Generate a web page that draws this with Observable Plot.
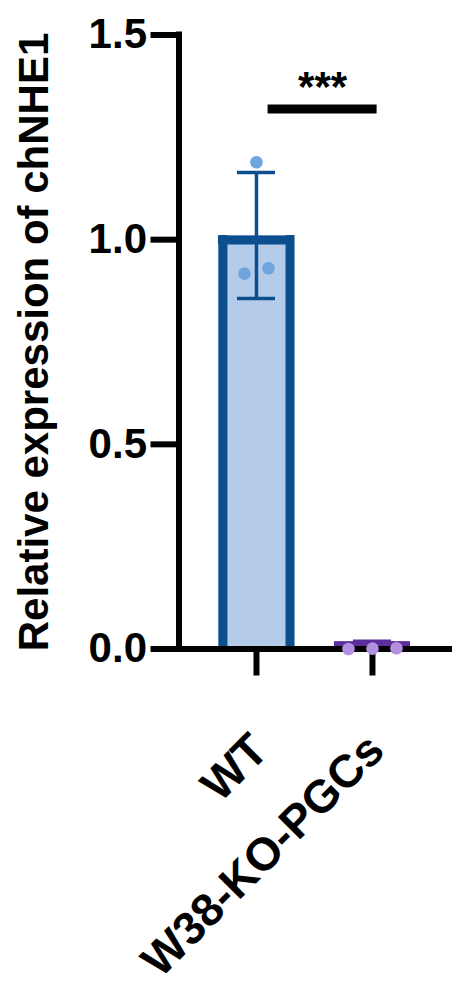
<!DOCTYPE html>
<html>
<head>
<meta charset="utf-8">
<script src="https://cdn.jsdelivr.net/npm/d3@7"></script>
<script src="https://cdn.jsdelivr.net/npm/@observablehq/plot@0.6"></script>
<style>
  html, body { margin: 0; padding: 0; background: #fff; }
  #chart svg { display: block; }
</style>
</head>
<body>
<div id="chart"></div>
<script>
// ---- data ----
const groups = ["WT", "W38-KO-PGCs"];
const means = [1.01, 0.018];
const sds = [0.154, 0.001];
const wtValues = [1.189, 0.917, 0.930];
const koValues = [0.002, 0.000, 0.001];
const yTicks = [0, 0.5, 1.0, 1.5];
const yTitle = "Relative expression of chNHE1";
const sigLabel = "***";
const sigY = 1.319;

// ---- styles ----
const barFill = ["#b4cce9", "#5b2e9c"];
const barStroke = ["#0c4f8f", "#5b2e9c"];
const dotFill = ["#6ea5dd", "#b390e0"];
const font = "'Liberation Sans', Arial, Helvetica, sans-serif";

const bars = groups.map((g, i) => ({g, i, mean: means[i], sd: sds[i]}));
const outlined = bars.filter(d => d.mean > 0.05);

// scatter layout: points of similar value share a row, centred on the group
function spread(values, gi) {
  const sorted = values.map(v => ({v, i: gi})).sort((a, b) => a.v - b.v);
  const rows = [];
  for (const p of sorted) {
    const row = rows[rows.length - 1];
    if (row && p.v - row[0].v < 0.03) row.push(p); else rows.push([p]);
  }
  for (const row of rows) {
    const n = row.length;
    row.forEach((p, j) => { p.x = gi + (j - (n - 1) / 2) * 0.207; });
  }
  return sorted;
}
const points = [...spread(wtValues, 0), ...spread(koValues, 1)];

const halfBar = 0.328, halfCap = 0.164, border = 9;

const chart = Plot.plot({
  width: 474,
  height: 988,
  marginLeft: 178.5,
  marginRight: 22,
  marginTop: 34.5,
  marginBottom: 339.5,
  style: {fontFamily: font, fontWeight: "bold", fontSize: "42px", background: "#fff", overflow: "visible"},
  x: {domain: [-0.668, 1.69]},
  y: {domain: [0, 1.5]},
  marks: [
    // bar fill
    Plot.rectY(bars, {
      x1: d => d.i - halfBar, x2: d => d.i + halfBar, y1: 0, y2: "mean",
      fill: d => barFill[d.i]
    }),
    // bar border drawn inside the bar (left, right, top)
    Plot.ruleX(outlined, {x: d => d.i - halfBar, y1: 0, y2: "mean", dx: border / 2, stroke: d => barStroke[d.i], strokeWidth: border}),
    Plot.ruleX(outlined, {x: d => d.i + halfBar, y1: 0, y2: "mean", dx: -border / 2, stroke: d => barStroke[d.i], strokeWidth: border}),
    Plot.ruleY(outlined, {y: "mean", x1: d => d.i - halfBar, x2: d => d.i + halfBar, dy: border / 2, stroke: d => barStroke[d.i], strokeWidth: border}),
    // error bars
    Plot.ruleX(bars, {x: "i", y1: d => d.mean - d.sd, y2: d => d.mean + d.sd, stroke: d => barStroke[d.i], strokeWidth: 3.5}),
    Plot.ruleY(bars, {y: d => d.mean + d.sd, x1: d => d.i - halfCap, x2: d => d.i + halfCap, stroke: d => barStroke[d.i], strokeWidth: 3.5}),
    Plot.ruleY(bars, {y: d => d.mean - d.sd, x1: d => d.i - halfCap, x2: d => d.i + halfCap, stroke: d => barStroke[d.i], strokeWidth: 3.5}),
    // axes
    Plot.ruleY([0], {stroke: "#000", strokeWidth: 6, strokeLinecap: "square", insetRight: 3}),
    Plot.ruleX([-0.668], {y1: 0, y2: 1.5, stroke: "#000", strokeWidth: 6, strokeLinecap: "square"}),
    Plot.axisY(yTicks, {
      tickFormat: d3.format(".1f"), tickSize: 28, tickPadding: 4, strokeWidth: 6,
      fontSize: 42, fontWeight: "bold", label: null
    }),
    Plot.axisX([0, 1], {tickSize: 27, strokeWidth: 6, tickFormat: () => "", label: null}),
    // individual points
    Plot.dot(points, {x: "x", y: "v", r: 6.3, fill: d => dotFill[d.i], stroke: "none"}),
    // group labels
    Plot.text(bars, {
      x: "i", text: "g", frameAnchor: "bottom", rotate: -45, textAnchor: "end",
      lineAnchor: "bottom", dx: 14, dy: 104, fontSize: 46, fontWeight: "bold"
    }),
    // y title
    Plot.text([yTitle], {
      frameAnchor: "left", rotate: -90, textAnchor: "middle", lineAnchor: "bottom",
      dx: -131.5, fontSize: 42, fontWeight: "bold"
    }),
    // significance
    Plot.ruleY([sigY], {x1: 0.10, x2: 1.04, stroke: "#000", strokeWidth: 9}),
    Plot.text([sigLabel], {x: [0.57], y: [sigY], text: d => d, textAnchor: "middle", lineAnchor: "bottom", dy: -8.5, fontSize: 42, fontWeight: "bold"})
  ]
});
document.getElementById("chart").appendChild(chart);
</script>
</body>
</html>
